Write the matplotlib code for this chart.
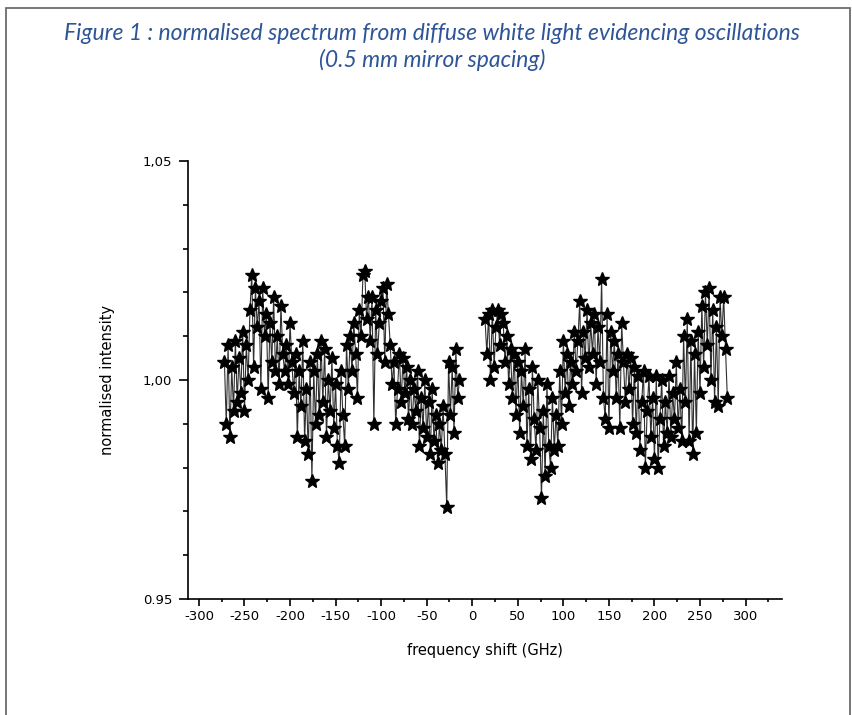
import matplotlib.pyplot as plt
from matplotlib.ticker import MultipleLocator
from matplotlib.patches import Rectangle

# ==============================
# DATOS
# ==============================

# Rama negativa: frecuencia (GHz)
freq_neg = [-272, -270, -268, -266, -264, -262, -260, -258, -256, -254,
            -252, -250, -248, -246, -244, -242, -240, -238, -236, -234,
            -232, -230, -228, -226, -224, -222, -220, -218, -216, -214,
            -212, -210, -208, -206, -204, -202, -200, -198, -196, -194,
            -192, -190, -188, -186, -184, -182, -180, -178, -176, -174,
            -172, -170, -168, -166, -164, -162, -160, -158, -156, -154,
            -152, -150, -148, -146, -144, -142, -140, -138, -136, -134,
            -132, -130, -128, -126, -124, -122, -120, -118, -116, -114,
            -112, -110, -108, -106, -104, -102, -100, -98, -96, -94,
            -92, -90, -88, -86, -84, -82, -80, -78, -76, -74,
            -72, -70, -68, -66, -64, -62, -60, -58, -56, -54,
            -52, -50, -48, -46, -44, -42, -40, -38, -36, -34,
            -32, -30, -28, -26, -24, -22, -20, -18, -16, -14]

int_neg = [1.004, 0.990, 1.008, 0.987, 1.003, 0.993, 1.009, 0.995, 1.005, 0.997,
           1.011, 0.993, 1.008, 1.000, 1.016, 1.024, 1.003, 1.021, 1.012, 1.018,
           0.998, 1.021, 1.010, 1.015, 0.996, 1.013, 1.004, 1.019, 1.002, 1.010,
           0.999, 1.017, 1.006, 1.002, 1.008, 0.999, 1.013, 1.004, 0.997, 1.006,
           0.987, 1.002, 0.994, 1.009, 0.986, 0.998, 0.983, 1.004, 0.977, 1.002,
           0.990, 1.006, 0.992, 1.009, 0.995, 1.007, 0.987, 1.000, 0.993, 1.005,
           0.989, 0.999, 0.985, 0.981, 1.002, 0.992, 0.985, 1.008, 0.998, 1.010,
           1.002, 1.013, 1.006, 0.996, 1.016, 1.010, 1.024, 1.025, 1.014, 1.019,
           1.009, 1.019, 0.990, 1.016, 1.006, 1.013, 1.018, 1.021, 1.004, 1.022,
           1.015, 1.008, 0.999, 1.004, 0.990, 0.998, 1.006, 0.995, 1.005, 0.997,
           1.003, 0.991, 1.000, 0.990, 0.998, 0.993, 1.002, 0.985, 0.996, 0.989,
           1.000, 0.987, 0.995, 0.983, 0.998, 0.986, 0.992, 0.981, 0.990, 0.984,
           0.994, 0.983, 0.971, 1.004, 0.992, 1.003, 0.988, 1.007, 0.996, 1.000]

# Rama positiva: frecuencia (GHz)
freq_pos = [14, 16, 18, 20, 22, 24, 26, 28, 30, 32,
            34, 36, 38, 40, 42, 44, 46, 48, 50, 52,
            54, 56, 58, 60, 62, 64, 66, 68, 70, 72,
            74, 76, 78, 80, 82, 84, 86, 88, 90, 92,
            94, 96, 98, 100, 102, 104, 106, 108, 110, 112,
            114, 116, 118, 120, 122, 124, 126, 128, 130, 132,
            134, 136, 138, 140, 142, 144, 146, 148, 150, 152,
            154, 156, 158, 160, 162, 164, 166, 168, 170, 172,
            174, 176, 178, 180, 182, 184, 186, 188, 190, 192,
            194, 196, 198, 200, 202, 204, 206, 208, 210, 212,
            214, 216, 218, 220, 222, 224, 226, 228, 230, 232,
            234, 236, 238, 240, 242, 244, 246, 248, 250, 252,
            254, 256, 258, 260, 262, 264, 266, 268, 270, 272,
            274, 276, 278, 280]

int_pos = [1.014, 1.006, 1.015, 1.000, 1.016, 1.003, 1.012, 1.016, 1.008, 1.015,
           1.013, 1.004, 1.010, 0.999, 1.007, 0.996, 1.006, 0.992, 1.004, 0.988,
           1.002, 0.994, 1.007, 0.985, 0.998, 0.982, 1.003, 0.991, 0.984, 1.000,
           0.989, 0.973, 0.993, 0.978, 0.999, 0.985, 0.980, 0.996, 0.984, 0.992,
           0.985, 1.002, 0.990, 1.009, 0.997, 1.006, 0.994, 1.004, 0.999, 1.011,
           1.002, 1.009, 1.018, 0.997, 1.011, 1.005, 1.016, 1.003, 1.013, 1.006,
           1.015, 0.999, 1.012, 1.004, 1.023, 0.996, 0.991, 1.015, 0.989, 1.011,
           1.002, 1.009, 0.996, 1.006, 0.989, 1.013, 1.004, 0.995, 1.006, 0.998,
           1.005, 0.990, 1.003, 0.988, 1.001, 0.984, 0.995, 1.002, 0.980, 0.993,
           1.001, 0.987, 0.996, 0.982, 1.001, 0.980, 0.991, 1.000, 0.985, 0.995,
           0.988, 1.001, 0.987, 0.997, 0.991, 1.004, 0.989, 0.998, 0.986, 1.010,
           0.995, 1.014, 0.986, 1.009, 0.983, 1.006, 0.988, 1.011, 0.997, 1.017,
           1.003, 1.020, 1.008, 1.021, 1.000, 1.016, 0.995, 1.012, 0.994, 1.019,
           1.010, 1.019, 1.007, 0.996]

# Ticks
xticks = [-300, -250, -200, -150, -100, -50, 0, 50, 100, 150, 200, 250, 300]
yticks = [0.95, 1.00, 1.05]
ytick_labels = ["0.95", "1,00", "1,05"]

titulo = ("Figure 1 : normalised spectrum from diffuse white light evidencing oscillations\n"
          "(0.5 mm mirror spacing)")

# ==============================
# GRAFICA
# ==============================

fig = plt.figure(figsize=(8.52, 7.15), dpi=100)
ax = fig.add_axes([188 / 852, 116 / 715, 594 / 852, 438 / 715])

# Marco de la pagina
fig.patches.append(Rectangle((6 / 852, -0.01), 844 / 852, 1 - 8 / 715 + 0.01,
                             transform=fig.transFigure, fill=False,
                             edgecolor="#606060", linewidth=1.2))

for f, v in [(freq_neg, int_neg), (freq_pos, int_pos)]:
    ax.plot(f, v, color="#303030", linewidth=0.8, marker="*",
            markersize=10, markerfacecolor="black", markeredgecolor="black")

ax.set_xlim(-312, 340)
ax.set_ylim(0.95, 1.05)

ax.set_xticks(xticks)
ax.set_xticklabels([str(t) for t in xticks])
ax.xaxis.set_minor_locator(MultipleLocator(25))
ax.set_yticks(yticks)
ax.set_yticklabels(ytick_labels)
ax.yaxis.set_minor_locator(MultipleLocator(0.01))

ax.spines["top"].set_visible(False)
ax.spines["right"].set_visible(False)
ax.spines["left"].set_linewidth(1.2)
ax.spines["bottom"].set_linewidth(1.2)

ax.tick_params(axis="x", which="major", direction="out", length=5, width=1.2,
               labelsize=9.5, pad=3)
ax.tick_params(axis="x", which="minor", direction="out", length=2.5, width=1.2)
ax.tick_params(axis="y", which="major", direction="out", length=6.5, width=1.2,
               labelsize=9.5, pad=5)
ax.tick_params(axis="y", which="minor", direction="out", length=3.5, width=1.2)

ax.set_xlabel("frequency shift (GHz)", fontsize=10.5, labelpad=14)
ax.set_ylabel("normalised intensity", fontsize=10.5, labelpad=20)

fig.text(0.507, 1 - 23 / 715, titulo, ha="center", va="top", fontsize=16.5,
         fontstyle="italic", family="Lato", color="#2E5597", linespacing=1.25)

plt.savefig("out.png", dpi=100)
plt.close()
